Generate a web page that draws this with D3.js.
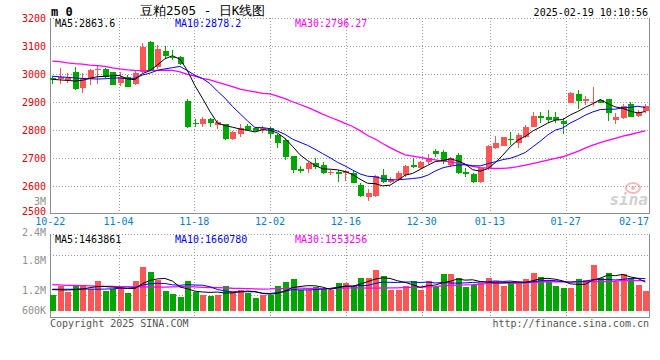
<!DOCTYPE html>
<html><head><meta charset="utf-8">
<script src="https://cdn.jsdelivr.net/npm/d3@7"></script>
<style>body{margin:0;background:#fff}svg{display:block}text{font-family:"DejaVu Sans Mono","Liberation Mono",monospace}</style>
</head><body><svg id="c" width="660" height="360"></svg>
<script>
const dates=["10-22","10-23","10-24","10-25","10-28","10-29","10-30","10-31","11-01","11-04",
"11-05","11-06","11-07","11-08","11-11","11-12","11-13","11-14","11-15","11-18",
"11-19","11-20","11-21","11-22","11-25","11-26","11-27","11-28","11-29","12-02",
"12-03","12-04","12-05","12-06","12-09","12-10","12-11","12-12","12-13","12-16",
"12-17","12-18","12-19","12-20","12-23","12-24","12-25","12-26","12-27","12-30",
"12-31","01-02","01-03","01-06","01-07","01-08","01-09","01-10","01-13","01-14",
"01-15","01-16","01-17","01-20","01-21","01-22","01-23","01-24","01-27","02-05",
"02-06","02-07","02-10","02-11","02-12","02-13","02-14","02-17","02-18","02-19"];
const opens=[2987,2981,2980,3006,2951,2982,3013,3017,3006,2969,
2988,2964,3008,3114,3024,3081,3062,3061,2905,2824,
2821,2839,2819,2821,2769,2787,2814,2806,2800,2808,
2783,2764,2707,2661,2662,2681,2675,2647,2650,2648,
2648,2602,2562,2564,2639,2613,2625,2639,2675,2663,
2687,2725,2720,2675,2711,2649,2643,2613,2663,2737,
2744,2768,2752,2776,2812,2850,2848,2845,2833,2898,
2929,2904,2896,2907,2910,2836,2842,2893,2850,2869];
const highs=[2992,3020,3003,3026,3002,3019,3032,3022,3008,3007,
2996,3010,3112,3119,3104,3100,3086,3063,2911,2838,
2845,2844,2834,2823,2798,2820,2823,2808,2815,2812,
2787,2770,2708,2672,2687,2699,2685,2657,2656,2658,
2658,2609,2589,2640,2660,2632,2655,2675,2701,2689,
2713,2732,2729,2705,2717,2665,2645,2665,2746,2780,
2776,2792,2788,2818,2865,2865,2871,2864,2842,2936,
2943,2923,2952,2911,2912,2860,2893,2900,2872,2893];
const lows=[2963,2964,2968,2943,2931,2959,2966,2986,2960,2957,
2952,2960,3005,3010,3018,3055,3050,3033,2808,2812,
2812,2812,2805,2764,2764,2775,2796,2796,2788,2773,
2737,2693,2645,2648,2648,2662,2642,2639,2616,2618,
2610,2560,2548,2562,2610,2610,2619,2633,2663,2661,
2677,2705,2677,2669,2643,2633,2610,2610,2657,2732,
2742,2746,2737,2770,2810,2824,2826,2824,2786,2895,
2874,2889,2884,2896,2833,2821,2840,2845,2845,2860];
const closes=[2979,2988,2985,2948,2987,3014,3018,2990,2961,2988,
2955,3005,3097,3015,3089,3065,3060,3035,2812,2821,
2839,2825,2827,2767,2792,2807,2801,2798,2807,2785,
2755,2705,2657,2655,2683,2667,2646,2649,2643,2654,
2612,2564,2576,2636,2614,2625,2648,2670,2668,2684,
2699,2714,2689,2699,2648,2642,2613,2663,2743,2755,
2774,2763,2782,2812,2850,2843,2836,2836,2821,2933,
2905,2910,2899,2898,2860,2845,2886,2848,2865,2886];
const volumes=[800,1260,969,1275,1311,1142,1515,1005,1142,1173,
903,1515,2229,1974,1566,1020,852,714,1515,969,
800,750,800,1260,1020,1091,918,663,800,836,
1260,1479,1617,1056,1056,1224,1142,1056,1428,1428,
1260,1683,1683,2076,1770,1091,1091,1260,1515,1091,
1515,1224,1872,1872,1683,1224,1311,1428,1683,1515,
1260,1428,1479,1617,1938,1734,1566,1260,1193,1173,
1617,1566,2331,1703,1938,1479,1872,1703,1311,1020].map(v=>v*1000);
const ma5Head=[2981,2979,2977,2975];
const ma10Head=[2992,2990,2988,2986,2984,2983,2982,2983,2985];
const ma30Head=[3046,3044,3040,3037,3035,3032,3030,3027,3022,3018,3015,3013,3012,3012,3013,3014,3013,3008,2999,2992,2984,2979,2971,2963,2955,2946,2941,2936,2931];
const vma5Head=[1090,1080,1070,1090].map(v=>v*1000);
const vma10Head=[1110,1110,1110,1110,1120,1120,1110,1120,1130].map(v=>v*1000);
const vma30Head=[1350,1330,1310,1300,1290,1280,1270,1260,1250,1245,1240,1235,1230,1225,1220,1220,1230,1240,1240,1230,1210,1200,1190,1180,1160,1150,1140,1130,1120].map(v=>v*1000);
const priceTicks=[3200,3100,3000,2900,2800,2700,2600,2500];
const volTicks=[3000000,2400000,1800000,1200000,600000];
const volTickLabels=["3M","2.4M","1.8M","1.2M","600K"];
const tickDates=["10-22","11-04","11-18","12-02","12-16","12-30","01-13","01-27","02-17"];
const title="豆粕2505 - 日K线图";
const stamp="2025-02-19 10:10:56";
const priceLegend=["MA5:2863.6","MA10:2878.2","MA30:2796.27"];
const volLegend=["MA5:1463861","MA10:1660780","MA30:1553256"];

function movingAvg(arr,n,head){return arr.map((v,i)=>i<n-1?head[i]:d3.mean(arr.slice(i-n+1,i+1)));}
const ma5=movingAvg(closes,5,ma5Head),ma10=movingAvg(closes,10,ma10Head),ma30=movingAvg(closes,30,ma30Head);
const vma5=movingAvg(volumes,5,vma5Head),vma10=movingAvg(volumes,10,vma10Head),vma30=movingAvg(volumes,30,vma30Head);

const RED="#ff5555",GREEN="#00a600",GRID="#9a9a9a",AX="#8c8c8c";
const L=50,R=649,PT=18,PB=213.5,VT=234,VB=317;
const FS=10;
const svg=d3.select("#c");
const xC=d3.scaleLinear().domain([0,dates.length-1]).range([52.3,645.3]);
const xG=d3.scaleLinear().domain([0,dates.length-1]).range([50.3,649]);
const yP=d3.scaleLinear().domain([2500,3200]).range([214,18]);
const yV=d3.scaleLinear().domain([0,4e6]).range([311,232.6]);
const yVL=d3.scaleLinear().domain([1.2e6,3e6]).range([290.5,201]);
const px=v=>Math.round(v)+0.5;

// header
svg.append("text").attr("x",51).attr("y",15.5).attr("font-size",12).attr("font-weight","bold").text("m 0");
svg.append("text").attr("x",140).attr("y",15).attr("font-size",12.5).attr("font-family","'Noto Sans CJK SC',sans-serif").text(title);
svg.append("text").attr("x",648).attr("y",16).attr("text-anchor","end").attr("font-size",FS).text(stamp);

// price grid
const g=svg.append("g").attr("shape-rendering","crispEdges");
priceTicks.filter(t=>t>2500).forEach(t=>{
  g.append("line").attr("x1",L).attr("x2",R).attr("y1",px(yP(t))).attr("y2",px(yP(t))).attr("stroke",GRID).attr("stroke-dasharray","1,2");
});
tickDates.slice(1,-1).forEach(d=>{
  const xx=px(xG(dates.indexOf(d)));
  g.append("line").attr("x1",xx).attr("x2",xx).attr("y1",PT).attr("y2",PB).attr("stroke",GRID).attr("stroke-dasharray","1,2");
  g.append("line").attr("x1",xx).attr("x2",xx).attr("y1",VT).attr("y2",VB).attr("stroke",GRID).attr("stroke-dasharray","1,2");
});
g.append("line").attr("x1",L).attr("x2",R).attr("y1",px(yP(2500))-1).attr("y2",px(yP(2500))-1).attr("stroke",AX);
g.append("line").attr("x1",L+0.5).attr("x2",L+0.5).attr("y1",PT).attr("y2",PB).attr("stroke",AX);
g.append("line").attr("x1",R+0.5).attr("x2",R+0.5).attr("y1",PT).attr("y2",PB).attr("stroke",AX);
// volume panel frame
g.append("line").attr("x1",L).attr("x2",R).attr("y1",VT+0.5).attr("y2",VT+0.5).attr("stroke",GRID).attr("stroke-dasharray","1,2");
[255,295].forEach(yy=>g.append("line").attr("x1",L).attr("x2",R).attr("y1",yy+0.5).attr("y2",yy+0.5).attr("stroke",GRID).attr("stroke-dasharray","1,2"));
g.append("line").attr("x1",L).attr("x2",R+1).attr("y1",VB+0.5).attr("y2",VB+0.5).attr("stroke",AX);
g.append("line").attr("x1",L+0.5).attr("x2",L+0.5).attr("y1",VT).attr("y2",VB).attr("stroke",AX);
g.append("line").attr("x1",R+0.5).attr("x2",R+0.5).attr("y1",VT).attr("y2",VB).attr("stroke",AX);

// price labels
priceTicks.forEach(t=>{
  svg.append("text").attr("x",46).attr("y",t===2500?215:yP(t)+3.5).attr("text-anchor","end").attr("font-size",FS).attr("fill","#e00000").text(t);
});
// volume labels
volTicks.forEach((v,i)=>{
  const yy=Math.min(310,yVL(v))+3.5;
  svg.append("text").attr("x",46).attr("y",v===2400000?yy+1.5:yy).attr("text-anchor","end").attr("font-size",FS).attr("fill","#909090").text(volTickLabels[i]);
});
// date labels
tickDates.forEach((d,i)=>{
  const xx=xG(dates.indexOf(d));
  const last=i===tickDates.length-1;
  svg.append("text").attr("x",last?R:xx).attr("y",225).attr("text-anchor",last?"end":"middle").attr("font-size",FS).attr("fill","#0a7ec2").text(d);
});

// sina watermark
const wm=svg.append("g").attr("opacity",0.55);
wm.append("ellipse").attr("cx",633).attr("cy",188).attr("rx",7).attr("ry",5).attr("fill","none").attr("stroke","#f08080").attr("stroke-width",2);
wm.append("circle").attr("cx",633).attr("cy",188).attr("r",2).attr("fill","#f08080");
wm.append("text").attr("x",648).attr("y",205).attr("text-anchor","end").attr("font-size",16).attr("font-style","italic").attr("font-weight","bold").attr("font-family","'DejaVu Sans',sans-serif").attr("fill","#aaa").text("sina");

// candles and volume bars
const idx=d3.range(dates.length);
const cg=svg.append("g").attr("shape-rendering","crispEdges");
idx.forEach(i=>{
  const up=closes[i]>=opens[i];const col=up?RED:GREEN;const xx=Math.round(xC(i));
  cg.append("line").attr("x1",xx+0.5).attr("x2",xx+0.5).attr("y1",yP(highs[i])).attr("y2",yP(lows[i])).attr("stroke",col);
  const y1=yP(Math.max(opens[i],closes[i])),y2=yP(Math.min(opens[i],closes[i]));
  cg.append("rect").attr("x",xx-2).attr("width",6).attr("y",y1).attr("height",Math.max(1,y2-y1)).attr("fill",col);
  cg.append("rect").attr("x",xx-2).attr("width",6).attr("y",yV(volumes[i])).attr("height",yV(0)-yV(volumes[i])).attr("fill",col);
});

// MA lines
const lineP=d3.line().x((d,i)=>xC(i)).y(d=>yP(d));
const lineV=d3.line().x((d,i)=>xC(i)).y(d=>yV(d));
[[ma30,"#ff00ff",1.3],[ma10,"#0000ff",1],[ma5,"#000",1]].forEach(([a,c,w])=>svg.append("path").attr("d",lineP(a)).attr("fill","none").attr("stroke",c).attr("stroke-width",w));
[[vma30,"#ff00ff",1.3],[vma10,"#0000ff",1],[vma5,"#000",1]].forEach(([a,c,w])=>svg.append("path").attr("d",lineV(a)).attr("fill","none").attr("stroke",c).attr("stroke-width",w));

// legends
const legCols=["#000","#0000ff","#ff00ff"],legX=[55,175,295];
priceLegend.forEach((t,i)=>svg.append("text").attr("x",legX[i]).attr("y",27).attr("font-size",FS).attr("fill",legCols[i]).text(t));
volLegend.forEach((t,i)=>svg.append("text").attr("x",legX[i]).attr("y",242.5).attr("font-size",FS).attr("fill",legCols[i]).text(t));

// footer
svg.append("text").attr("x",50).attr("y",327).attr("font-size",FS).attr("fill","#555").text("Copyright 2025 SINA.COM");
svg.append("text").attr("x",649).attr("y",327).attr("text-anchor","end").attr("font-size",FS).attr("fill","#555").text("http://finance.sina.com.cn");
</script></body></html>
